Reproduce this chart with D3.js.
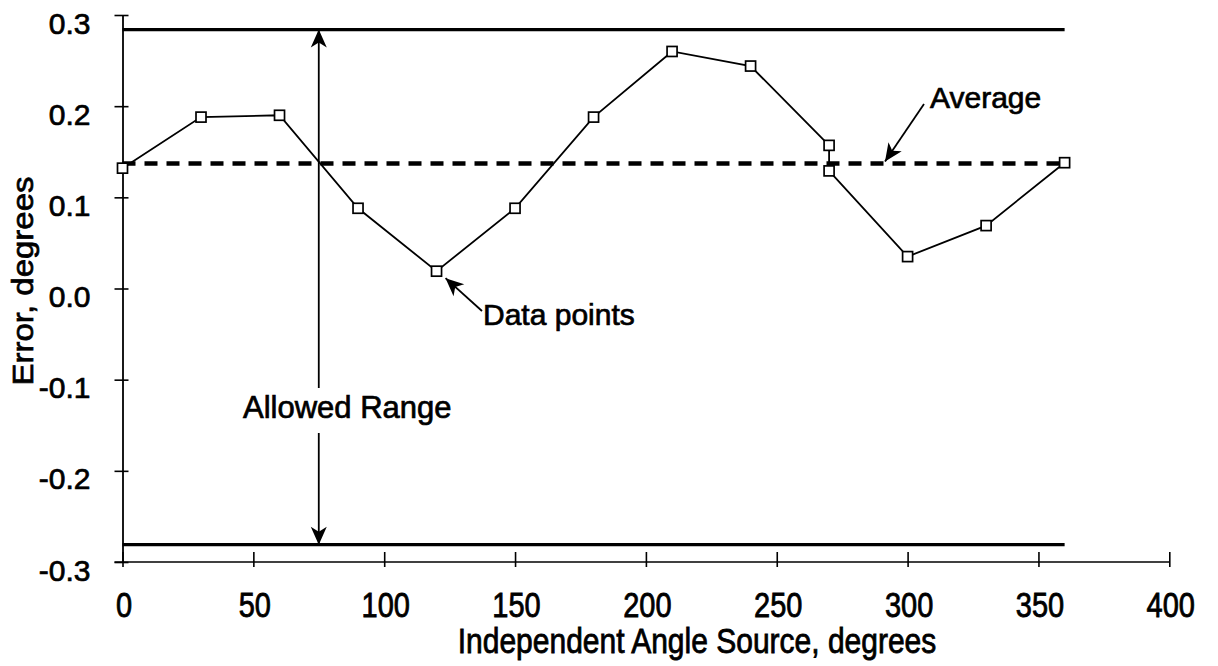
<!DOCTYPE html>
<html>
<head>
<meta charset="utf-8">
<script src="https://cdn.jsdelivr.net/npm/d3@7/dist/d3.min.js"></script>
<style>
  html, body { margin: 0; padding: 0; background: #fff; }
  svg { display: block; }
  text { font-family: "Liberation Sans", Arial, Helvetica, sans-serif; fill: #000; stroke: #000; stroke-width: 0.7px; }
</style>
</head>
<body>
<svg id="chart" width="1218" height="666"></svg>
<script>
// ---- data ----
const angles = [0, 30, 60, 90, 120, 150, 180, 210, 240, 270, 270, 300, 330, 360];
const errors = [0.132, 0.188, 0.190, 0.088, 0.019, 0.088, 0.188, 0.260, 0.244, 0.157, 0.129, 0.035, 0.069, 0.138];
const allowedLimits = [0.284, -0.281];
const averageError = 0.137;
const lineExtent = [0, 360];
const xTicks = [0, 50, 100, 150, 200, 250, 300, 350, 400];
const yTicks = [0.3, 0.2, 0.1, 0.0, -0.1, -0.2, -0.3];
const xTitle = "Independent Angle Source, degrees";
const yTitle = "Error, degrees";
const labels = { range: "Allowed Range", points: "Data points", average: "Average" };

// ---- layout ----
const svg = d3.select("#chart");
const x = d3.scaleLinear().domain([0, 400]).range([122.5, 1169.3]);
const y = d3.scaleLinear().domain([-0.3, 0.3]).range([562, 15]);
const FS = 30;
const fontFam = '"Liberation Sans", Arial, sans-serif';

// axes
const yFmt = d => d3.format(".1f")(d).replace("\u2212", "-");
const yAxis = d3.axisLeft(y).tickValues(yTicks).tickSize(0).tickPadding(0).tickFormat(yFmt);
const gy = svg.append("g").attr("transform", `translate(${x(0)},0)`).call(yAxis);
gy.select(".domain").attr("stroke", "#000").attr("stroke-width", 1.8);
gy.selectAll(".tick line").attr("x1", -8).attr("x2", 6).attr("stroke", "#000").attr("stroke-width", 1.6);
gy.selectAll(".tick text")
  .attr("x", -32).attr("dy", null).attr("y", 18)
  .attr("text-anchor", "end")
  .style("font-size", FS + "px")
  .style("font-family", fontFam)
  .attr("fill", "#000");

const xAxis = d3.axisBottom(x).tickValues(xTicks).tickSize(0).tickPadding(0).tickFormat(d3.format("d"));
const gx = svg.append("g").attr("transform", `translate(0,${y(-0.3)})`).call(xAxis);
gx.select(".domain").attr("stroke", "#000").attr("stroke-width", 1.6)
  .attr("d", `M${x(0) - 8},0H${x(400)}`);
gx.selectAll(".tick line").attr("y1", -10).attr("y2", 5).attr("stroke", "#000").attr("stroke-width", 1.6);
gx.selectAll(".tick text")
  .attr("y", 0).attr("dy", null)
  .attr("transform", "translate(1,55) scale(1,1.18)")
  .style("font-size", "29px")
  .style("font-family", fontFam)
  .attr("fill", "#000");

// axis titles
svg.append("text")
  .attr("transform", "translate(697,653) scale(1,1.14)")
  .attr("text-anchor", "middle")
  .style("font-size", FS + "px")
  .text(xTitle);
svg.append("text")
  .attr("transform", "translate(33,281) rotate(-90) scale(1.1,1)")
  .attr("text-anchor", "middle")
  .style("font-size", "30px")
  .text(yTitle);

// allowed range limits
svg.selectAll("line.limit").data(allowedLimits).enter().append("line")
  .attr("class", "limit")
  .attr("x1", x(lineExtent[0])).attr("x2", x(lineExtent[1]))
  .attr("y1", d => y(d)).attr("y2", d => y(d))
  .attr("stroke", "#000").attr("stroke-width", 3.2);

// average dashed
svg.append("line")
  .attr("x1", x(lineExtent[0])).attr("x2", x(lineExtent[1]))
  .attr("y1", y(averageError)).attr("y2", y(averageError))
  .attr("stroke", "#000").attr("stroke-width", 4.5)
  .attr("stroke-dasharray", "13,9");

// data line
const pts = angles.map((a, i) => [a, errors[i]]);
svg.append("path")
  .datum(pts)
  .attr("d", d3.line().x(d => x(d[0])).y(d => y(d[1])))
  .attr("fill", "none").attr("stroke", "#000").attr("stroke-width", 1.8);

// markers
const ms = 10;
svg.selectAll("rect.pt").data(pts).enter().append("rect")
  .attr("class", "pt")
  .attr("x", d => x(d[0]) - ms / 2).attr("y", d => y(d[1]) - ms / 2)
  .attr("width", ms).attr("height", ms)
  .attr("fill", "#fff").attr("stroke", "#000").attr("stroke-width", 1.7);

// arrows
function arrow(x1, y1, x2, y2) {
  svg.append("line").attr("x1", x1).attr("y1", y1).attr("x2", x2).attr("y2", y2)
    .attr("stroke", "#000").attr("stroke-width", 1.8);
  const ang = Math.atan2(y2 - y1, x2 - x1) * 180 / Math.PI;
  svg.append("path")
    .attr("d", "M0,0L-18,-8L-13,0L-18,8Z")
    .attr("transform", `translate(${x2},${y2}) rotate(${ang})`)
    .attr("fill", "#000");
}
const rangeX = x(75);
arrow(rangeX, 388, rangeX, y(allowedLimits[0]));
arrow(rangeX, 433, rangeX, y(allowedLimits[1]));
svg.append("text").attr("x", 243).attr("y", 418)
  .style("font-size", "31px").text(labels.range);

// data points label
arrow(482, 311, x(120) + 9, y(errors[4]) + 7);
svg.append("text").attr("x", 483).attr("y", 325)
  .style("font-size", FS + "px").text(labels.points);

// average label
arrow(924, 104, 885, y(averageError) - 2);
svg.append("text").attr("x", 930).attr("y", 108)
  .style("font-size", FS + "px").text(labels.average);
</script>
</body>
</html>
